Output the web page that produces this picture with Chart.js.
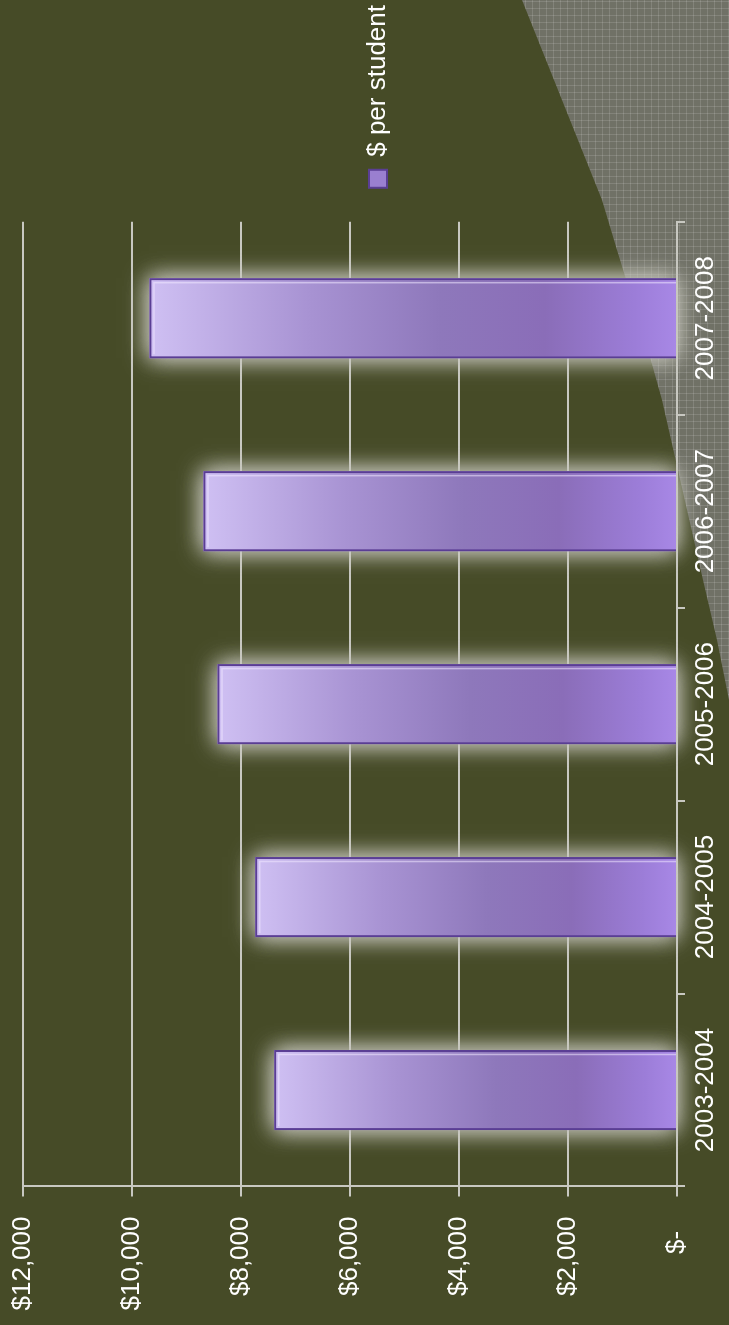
<!DOCTYPE html>
<html>
<head>
<meta charset="utf-8">
<script src="https://cdn.jsdelivr.net/npm/chart.js@4/dist/chart.umd.min.js"></script>
<style>
  html, body { margin: 0; padding: 0; }
  body { width: 729px; height: 1325px; overflow: hidden; background: #464b27; position: relative; }
  /* grey textured corner of the slide background */
  #corner {
    position: absolute; left: 0; top: 0; width: 729px; height: 1325px;
    background-color: #707166;
    background-image:
      repeating-linear-gradient(0deg, rgba(255,255,255,0.13) 0 1px, transparent 1px 7px),
      repeating-linear-gradient(90deg, rgba(255,255,255,0.13) 0 1px, transparent 1px 7px);
    clip-path: polygon(522px 0, 729px 0, 729px 700px, 717px 640px, 703px 580px, 662px 400px, 650px 357px, 617px 250px, 602px 200px);
  }
  /* chart is drawn upright, then turned a quarter to the left */
  #wrap {
    position: absolute; left: 0; top: 0; width: 1325px; height: 729px;
    transform-origin: 0 0;
    transform: translateY(1325px) rotate(-90deg);
  }
</style>
</head>
<body>
<div id="corner"></div>
<div id="wrap"><canvas id="perStudent" width="1325" height="729"></canvas></div>
<script>
    "use strict";

    var years = ["2003-2004", "2004-2005", "2005-2006", "2006-2007", "2007-2008"];
    var perStudent = [7390, 7740, 8430, 8690, 9680];
    var tickLabels = ["$-", "$2,000", "$4,000", "$6,000", "$8,000", "$10,000", "$12,000"];
    var seriesName = "$ per student";

    var font = { family: "'Liberation Sans', Arial, sans-serif", size: 26 };
    var lineColor = "#c8c8c1";

    function barFill(context) {
        var chart = context.chart;
        if (!chart.chartArea || context.raw === undefined) return "#9a7fd0";
        var y = chart.scales.y;
        var top = y.getPixelForValue(context.raw), base = y.getPixelForValue(0);
        var g = chart.ctx.createLinearGradient(0, top, 0, base);
        g.addColorStop(0, "#cfc0f3");
        g.addColorStop(0.3, "#a893d3");
        g.addColorStop(0.55, "#8e78bb");
        g.addColorStop(0.75, "#8a6db8");
        g.addColorStop(0.92, "#9c7dd8");
        g.addColorStop(1, "#a888e6");
        return g;
    }

    // soft grey glow round the bars, and the thin light bevel inside them
    var barGlow = {
        id: "barGlow",
        beforeDatasetsDraw: function (chart) {
            var ctx = chart.ctx;
            ctx.save();
            ctx.fillStyle = "#8a6db8";
            ctx.shadowColor = "rgba(200,200,190,0.9)";
            ctx.shadowBlur = 22;
            chart.getDatasetMeta(0).data.forEach(function (bar) {
                var l = bar.x - bar.width / 2;
                ctx.fillRect(l, bar.y, bar.width, bar.base - bar.y);
                ctx.fillRect(l, bar.y, bar.width, bar.base - bar.y);
            });
            ctx.restore();
        },
        afterDatasetsDraw: function (chart) {
            var ctx = chart.ctx;
            ctx.save();
            ctx.strokeStyle = "rgba(240,232,255,0.55)";
            ctx.lineWidth = 1.5;
            chart.getDatasetMeta(0).data.forEach(function (bar) {
                var l = bar.x - bar.width / 2, r = bar.x + bar.width / 2;
                ctx.beginPath();
                ctx.moveTo(l + 4, bar.y + 4.5);
                ctx.lineTo(r - 4.5, bar.y + 4.5);
                ctx.lineTo(r - 4.5, bar.base);
                ctx.stroke();
            });
            ctx.restore();
        }
    };

    new Chart(document.getElementById("perStudent").getContext("2d"), {
        type: "bar",
        data: {
            labels: years,
            datasets: [{
                label: seriesName,
                data: perStudent,
                backgroundColor: barFill,
                borderColor: "#5a3e94",
                borderWidth: 2,
                barPercentage: 0.415,
                categoryPercentage: 1
            }]
        },
        options: {
            responsive: false,
            animation: false,
            layout: { padding: { top: 23, bottom: -4, left: 0, right: -5 } },
            plugins: {
                tooltip: { enabled: false },
                legend: {
                    position: "right",
                    labels: {
                        color: "#ffffff",
                        font: font,
                        boxWidth: 18,
                        boxHeight: 18,
                        padding: 34,
                        generateLabels: function (chart) {
                            return Chart.defaults.plugins.legend.labels.generateLabels(chart).map(function (item) {
                                item.fillStyle = "#9a7fd0";
                                item.strokeStyle = "#5a3e94";
                                item.lineWidth = 2;
                                return item;
                            });
                        }
                    }
                }
            },
            scales: {
                x: {
                    ticks: { color: "#ffffff", font: font, padding: 5, maxRotation: 0, autoSkip: false },
                    grid: { drawOnChartArea: false, drawTicks: true, tickLength: 8, offset: true, color: lineColor, lineWidth: 2 },
                    border: { display: true, color: lineColor, width: 2 },
                    afterFit: function (scale) { scale.height = 56; }
                },
                y: {
                    min: 0,
                    max: 12000,
                    ticks: {
                        stepSize: 2000,
                        color: "#ffffff",
                        font: font,
                        padding: 20,
                        callback: function (value, index) {
                            var t = tickLabels[index];
                            return t === "$-" ? t + "  " : t;
                        }
                    },
                    grid: { color: lineColor, lineWidth: 2, drawTicks: true, tickLength: 10 },
                    border: { display: true, color: lineColor, width: 2 },
                    afterFit: function (scale) {
                        scale.width = 138.5;
                        scale.paddingTop = 0;
                        scale.paddingBottom = 0;
                    }
                }
            }
        },
        plugins: [barGlow]
    });
</script>
</body>
</html>
